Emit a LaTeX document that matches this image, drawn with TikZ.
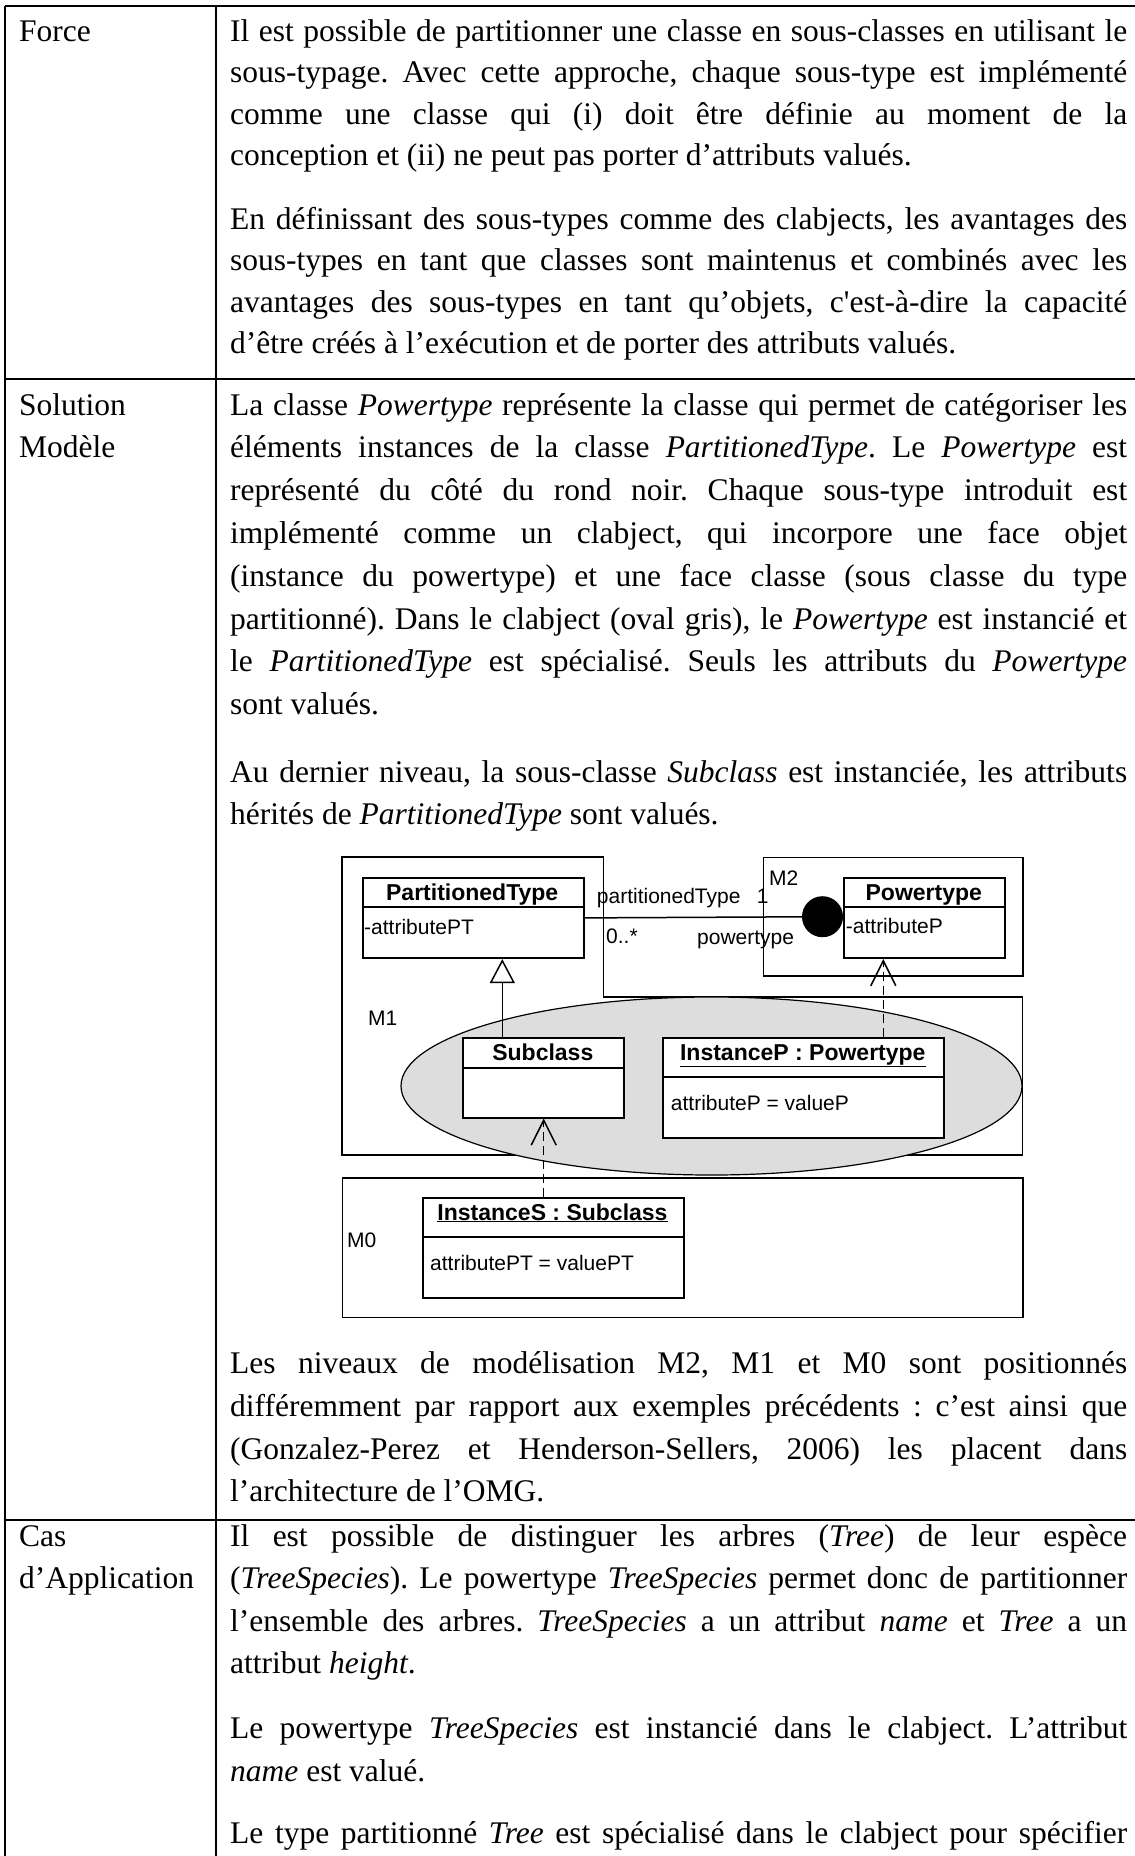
\documentclass[tikz,border=0pt]{standalone}
\usepackage{fontspec}
\setmainfont{Liberation Serif}
\newfontfamily\diag{Liberation Sans}
\usetikzlibrary{arrows.meta}
\definecolor{ovalgray}{RGB}{221,221,221}
\frenchspacing
\tikzset{
  txt/.style={inner sep=0pt, font=\fontsize{31.5}{42}\selectfont},
  dtxt/.style={inner sep=0pt, font=\diag\fontsize{21}{25}\selectfont},
  dbold/.style={inner sep=0pt, font=\diag\bfseries\fontsize{23}{27}\selectfont},
  cls/.style={draw, line width=1.8pt, fill=white, inner sep=0pt, anchor=north west},
  lvl/.style={draw, line width=1.6pt, inner sep=0pt, anchor=north west},
  sepline/.style={line width=1.8pt},
  dep/.style={line width=1.5pt, dash pattern=on 9pt off 5pt, -{Straight Barb[length=25pt,width=25pt]}},
  gen/.style={line width=1.5pt, -{Triangle[open,length=24pt,width=25pt]}},
  rule/.style={line width=2.2pt},
  thinrule/.style={line width=1.8pt},
}
\newcommand\jline[3]{\node[txt,anchor=base west] (#1) at (230,#2) {\makebox[897pt][s]{#3}};}
\newcommand\eline[3]{\node[txt,anchor=base west] (#1) at (230,#2) {#3};}
\newcommand\lab[3]{\node[txt,anchor=base west] (#1) at (19,#2) {#3};}
\begin{document}
\begin{tikzpicture}[x=1pt,y=-1pt]
\useasboundingbox (0,0) rectangle (1135,1856);
% table rules
\draw[rule] (5,6) -- (1135,6);
\draw[rule] (5,6) -- (5,1856);
\draw[thinrule] (216,6) -- (216,1856);
\draw[rule] (5,379) -- (1135,379);
\draw[rule] (5,1520) -- (1135,1520);
% left column
\lab{force}{41}{Force}
\lab{sol1}{415}{Solution}
\lab{sol2}{457.8}{Modèle}
\lab{cas1}{1546}{Cas}
\lab{cas2}{1588.6}{d’Application}
% row 1
\jline{f1}{41}{Il est possible de partitionner une classe en sous-classes en utilisant le}
\jline{f2}{82.5}{sous-typage. Avec cette approche, chaque sous-type est implémenté}
\jline{f3}{124}{comme une classe qui (i) doit être définie au moment de la}
\eline{f4}{165.5}{conception et (ii) ne peut pas porter d’attributs valués.}
\jline{f5}{229}{En définissant des sous-types comme des clabjects, les avantages des}
\jline{f6}{270.5}{sous-types en tant que classes sont maintenus et combinés avec les}
\jline{f7}{312}{avantages des sous-types en tant qu’objets, c\textquotesingle est-à-dire la capacité}
\eline{f8}{353.5}{d’être créés à l’exécution et de porter des attributs valués.}
% row 2
\jline{s1}{415}{La classe \textit{Powertype} représente la classe qui permet de catégoriser les}
\jline{s2}{457.8}{éléments instances de la classe \textit{PartitionedType}. Le \textit{Powertype} est}
\jline{s3}{500.6}{représenté du côté du rond noir. Chaque sous-type introduit est}
\jline{s4}{543.4}{implémenté comme un clabject, qui incorpore une face objet}
\jline{s5}{586.2}{(instance du powertype) et une face classe (sous classe du type}
\jline{s6}{629}{partitionné). Dans le clabject (oval gris), le \textit{Powertype} est instancié et}
\jline{s7}{671.8}{le \textit{PartitionedType} est spécialisé. Seuls les attributs du \textit{Powertype}}
\eline{s8}{714.6}{sont valués.}
\jline{s9}{782}{Au dernier niveau, la sous-classe \textit{Subclass} est instanciée, les attributs}
\eline{s10}{824.8}{hérités de \textit{PartitionedType} sont valués.}
\jline{s11}{1373.5}{Les niveaux de modélisation M2, M1 et M0 sont positionnés}
\jline{s12}{1416.3}{différemment par rapport aux exemples précédents : c’est ainsi que}
\jline{s13}{1459}{(Gonzalez-Perez et Henderson-Sellers, 2006) les placent dans}
\eline{s14}{1501.8}{l’architecture de l’OMG.}
% row 3
\jline{c1}{1546}{Il est possible de distinguer les arbres (\textit{Tree}) de leur espèce}
\jline{c2}{1588.6}{(\textit{TreeSpecies}). Le powertype \textit{TreeSpecies} permet donc de partitionner}
\jline{c3}{1631.2}{l’ensemble des arbres. \textit{TreeSpecies} a un attribut \textit{name} et \textit{Tree} a un}
\eline{c4}{1673.8}{attribut \textit{height}.}
\jline{c5}{1738.8}{Le powertype \textit{TreeSpecies} est instancié dans le clabject. L’attribut}
\eline{c6}{1781.4}{\textit{name} est valué.}
\jline{c7}{1843}{Le type partitionné \textit{Tree} est spécialisé dans le clabject pour spécifier}
% ---------- diagram ----------
% levels
\draw[line width=1.6pt] (341.7,856.7) -- (603.3,856.7) -- (603.3,996.7) -- (1022.3,996.7) -- (1022.3,1155) -- (341.7,1155) -- cycle;
\node[lvl, minimum width=259.6pt, minimum height=118.3pt] (m2) at (762.7,856.7) {};
\node[lvl, minimum width=680.6pt, minimum height=139.4pt] (m0) at (341.7,1177.3) {};
% clabject oval
\draw[fill=ovalgray, line width=1.2pt] (711.5,1086) ellipse [x radius=310.5pt, y radius=89pt];
% class boxes
\node[cls, minimum width=221pt, minimum height=80.6pt] (ptb) at (361.7,876.7) {};
\draw[sepline] (ptb.west |- 0,906.7) -- (ptb.east |- 0,906.7);
\node[cls, minimum width=161pt, minimum height=80.6pt] (pwb) at (843.3,876.7) {};
\draw[sepline] (pwb.west |- 0,906.7) -- (pwb.east |- 0,906.7);
\node[cls, minimum width=161pt, minimum height=79.4pt] (sub) at (462.3,1037.3) {};
\draw[sepline] (sub.west |- 0,1067.7) -- (sub.east |- 0,1067.7);
\node[cls, minimum width=281pt, minimum height=99.4pt] (ipb) at (662.3,1037.3) {};
\draw[sepline] (ipb.west |- 0,1077.3) -- (ipb.east |- 0,1077.3);
\node[cls, minimum width=261.6pt, minimum height=100pt] (isb) at (421.7,1197.3) {};
\draw[sepline] (isb.west |- 0,1237.3) -- (isb.east |- 0,1237.3);
% texts in boxes
\node[dbold, anchor=base] (ptt) at (472.2,900) {PartitionedType};
\node[dtxt, anchor=base west] (pta) at (364,934) {-attributePT};
\node[dbold, anchor=base] (pwt) at (923.8,900) {Powertype};
\node[dtxt, anchor=base west] (pwa) at (845.7,933) {-attributeP};
\node[dbold, anchor=base] (subt) at (542.8,1060) {Subclass};
\node[dbold, anchor=base] (ipt) at (802.8,1060) {\underline{InstanceP : Powertype}};
\node[dtxt, anchor=base west] (ipa) at (670.7,1110) {attributeP = valueP};
\node[dbold, anchor=base] (ist) at (552.5,1220) {\underline{InstanceS : Subclass}};
\node[dtxt, anchor=base west] (isa) at (430,1270) {attributePT = valuePT};
% level labels
\node[dtxt, anchor=base west] (m2l) at (769,885) {M2};
\node[dtxt, anchor=base west] (m1l) at (368,1025) {M1};
\node[dtxt, anchor=base west] (m0l) at (347,1247) {M0};
% association with powertype dot
\node[circle, fill=black, inner sep=0pt, minimum size=41pt] (dot) at (822.5,916.7) {};
\draw[line width=1.5pt] (ptb.east) -- (dot.center);
\node[dtxt, anchor=base west] (rolept) at (596.7,903) {partitionedType};
\node[dtxt, anchor=base west] (mult1) at (756.7,903) {1};
\node[dtxt, anchor=base west] (mult0) at (606,943) {0..*};
\node[dtxt, anchor=base west] (rolepw) at (697,944) {powertype};
% generalization Subclass -> PartitionedType
\coordinate (gS) at (502.3,1037.3);
\draw[gen] (gS) -- (gS |- ptb.south);
% instantiation InstanceP -> Powertype
\coordinate (dP) at (883.3,1037.3);
\draw[dep] (dP) -- (dP |- pwb.south);
% instantiation InstanceS -> Subclass
\draw[dep] (sub.south |- isb.north) -- (sub.south);
\end{tikzpicture}
\end{document}
